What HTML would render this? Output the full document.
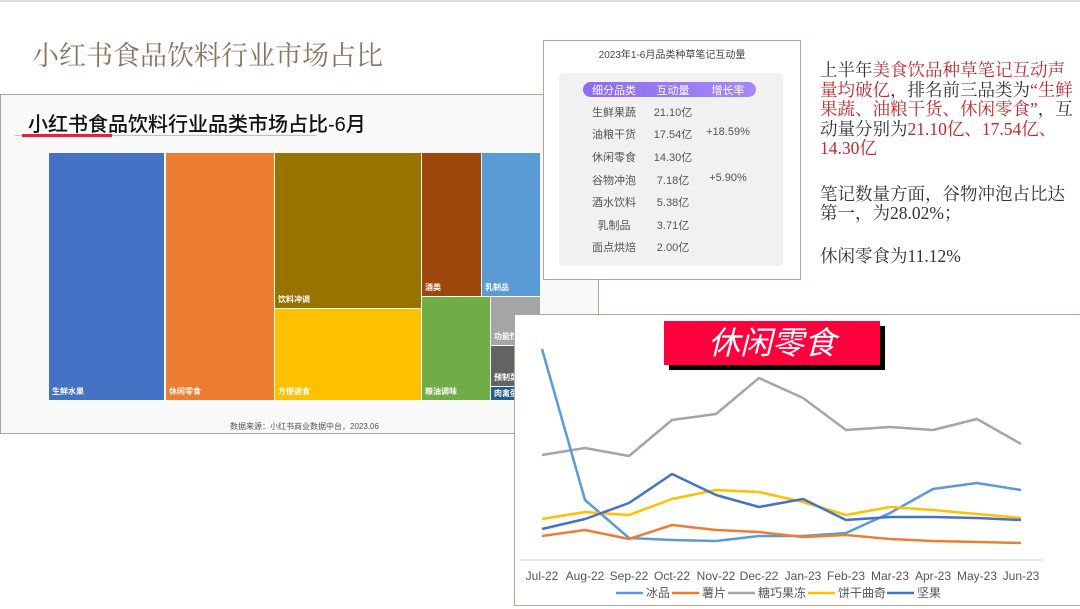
<!DOCTYPE html>
<html><head><meta charset="utf-8"><style>
body{margin:0;width:1080px;height:609px;background:#fff;position:relative;overflow:hidden;font-family:"Liberation Sans","Noto Sans CJK SC",sans-serif;}
.a{position:absolute;}
.serif{font-family:"Liberation Serif","Noto Serif CJK SC",serif;}
.tm{position:absolute;color:#fff;font-size:8px;font-weight:bold;}
.tm span{position:absolute;left:3px;bottom:3px;white-space:nowrap;}
.row{position:absolute;font-size:11px;color:#555;width:60px;text-align:center;}
</style></head><body>
<div class="a" style="left:0;top:0;width:1080px;height:2px;background:#ddd"></div>
<div class="a serif" style="left:32px;top:34px;font-size:27px;color:#8a7560;">小红书食品饮料行业市场占比</div>

<div class="a" style="left:0;top:94px;width:597px;height:338px;background:#f9f9f9;border:1px solid #b8a493;"></div>
<div class="a" style="left:28px;top:108px;font-size:20px;color:#111;font-weight:500;">小红书食品饮料行业品类市场占比-6月</div>
<div class="a" style="left:15px;top:135px;width:301px;height:1px;background:#f7a8b4"></div>
<div class="a" style="left:22px;top:134px;width:90px;height:3px;background:#ee1c3a"></div>

<div class="tm" style="left:49px;top:153px;width:115px;height:247px;background:#4472c4"><span>生鲜水果</span></div>
<div class="tm" style="left:166px;top:153px;width:108px;height:247px;background:#ed7d31"><span>休闲零食</span></div>
<div class="tm" style="left:275px;top:153px;width:146px;height:155px;background:#997300"><span>饮料冲调</span></div>
<div class="tm" style="left:275px;top:309px;width:146px;height:91px;background:#ffc000"><span>方便速食</span></div>
<div class="tm" style="left:422px;top:153px;width:59px;height:143px;background:#9e480e"><span>酒类</span></div>
<div class="tm" style="left:482px;top:153px;width:58px;height:143px;background:#5b9bd5"><span>乳制品</span></div>
<div class="tm" style="left:422px;top:297px;width:68px;height:103px;background:#70ad47"><span>粮油调味</span></div>
<div class="tm" style="left:491px;top:297px;width:49px;height:48px;background:#a5a5a5"><span>功能性</span></div>
<div class="tm" style="left:491px;top:346px;width:49px;height:40px;background:#636363"><span>预制菜</span></div>
<div class="tm" style="left:491px;top:387px;width:49px;height:13px;background:#255e91"><span style="bottom:1px">肉禽蛋</span></div>
<div class="a" style="left:230px;top:421px;font-size:8px;color:#555;">数据来源：小红书商业数据中台，2023.06</div>

<div class="a" style="left:543px;top:40px;width:256px;height:238px;background:#fff;border:1px solid #b8a493;"></div>
<div class="a" style="left:543px;top:46px;width:258px;text-align:center;font-size:10px;color:#444;">2023年1-6月品类种草笔记互动量</div>
<div class="a" style="left:559px;top:73px;width:224px;height:193px;background:#f1f1f1;border-radius:4px;"></div>
<div class="a" style="left:583px;top:82px;width:173px;height:15px;background:linear-gradient(90deg,#8f6cf0,#a48af5);border-radius:8px;"></div>
<div class="row" style="left:584px;top:82px;color:#fff">细分品类</div>
<div class="row" style="left:643px;top:82px;color:#fff">互动量</div>
<div class="row" style="left:698px;top:82px;color:#fff">增长率</div>
<div class="row" style="left:584px;top:104px">生鲜果蔬</div><div class="row" style="left:643px;top:104px">21.10亿</div>
<div class="row" style="left:584px;top:126px">油粮干货</div><div class="row" style="left:643px;top:126px">17.54亿</div><div class="row" style="left:698px;top:126px">+18.59%</div>
<div class="row" style="left:584px;top:149px">休闲零食</div><div class="row" style="left:643px;top:149px">14.30亿</div>
<div class="row" style="left:584px;top:172px">谷物冲泡</div><div class="row" style="left:643px;top:172px">7.18亿</div><div class="row" style="left:698px;top:172px">+5.90%</div>
<div class="row" style="left:584px;top:194px">酒水饮料</div><div class="row" style="left:643px;top:194px">5.38亿</div>
<div class="row" style="left:584px;top:217px">乳制品</div><div class="row" style="left:643px;top:217px">3.71亿</div>
<div class="row" style="left:584px;top:239px">面点烘焙</div><div class="row" style="left:643px;top:239px">2.00亿</div>

<div class="a serif" style="left:820px;top:61px;width:262px;font-size:17.5px;line-height:19.5px;color:#333;">上半年<span style="color:#c0282d">美食饮品种草笔记互动声量均破亿</span>，排名前三品类为<span style="color:#c0282d">“生鲜果蔬、油粮干货、休闲零食”</span>，互动量分别为<span style="color:#c0282d">21.10亿、17.54亿、14.30亿</span>
<div style="height:26px"></div>笔记数量方面，谷物冲泡占比达第一，为28.02%；<div style="height:23px"></div>休闲零食为11.12%</div>

<div class="a" style="left:514px;top:314px;width:565px;height:290px;background:#fff;border:1px solid #b8a493;"></div>
<div class="a" style="left:669px;top:326px;width:216px;height:44px;background:#000"></div>
<div class="a" style="left:664px;top:321px;width:216px;height:44px;background:#ff003c;color:#fff;font-size:32px;font-style:italic;text-align:center;line-height:44px;">休闲零食</div>
<svg class="a" style="left:0;top:0" width="1080" height="609">
<line x1="520" y1="560" x2="1042" y2="560" stroke="#ccc"/>
<g fill="none" stroke-width="2.5" stroke-linejoin="round">
<polyline stroke="#a5a5a5" points="542,455 585,448 629,456 672,420 716,414 759,378 803,398 846,430 890,427 933,430 977,419 1021,444"/>
<polyline stroke="#5b9bd5" points="542,349 585,500 629,538 672,540 716,541 759,536 803,536 846,533 890,513 933,489 977,483 1021,490"/>
<polyline stroke="#ed7d31" points="542,536 585,530 629,539 672,525 716,530 759,532 803,537 846,535 890,539 933,541 977,542 1021,543"/>
<polyline stroke="#ffc000" points="542,519 585,512 629,515 672,499 716,490 759,492 803,502 846,515 890,507 933,510 977,514 1021,518"/>
<polyline stroke="#4472c4" points="542,529 585,519 629,503 672,474 716,495 759,507 803,499 846,520 890,517 933,517 977,518 1021,520"/>
</g>
<g font-size="12" fill="#555" text-anchor="middle" font-family="Liberation Sans,sans-serif">
<text x="542" y="580">Jul-22</text><text x="585" y="580">Aug-22</text><text x="629" y="580">Sep-22</text><text x="672" y="580">Oct-22</text><text x="716" y="580">Nov-22</text><text x="759" y="580">Dec-22</text><text x="803" y="580">Jan-23</text><text x="846" y="580">Feb-23</text><text x="890" y="580">Mar-23</text><text x="933" y="580">Apr-23</text><text x="977" y="580">May-23</text><text x="1021" y="580">Jun-23</text>
</g>
<g stroke-width="2.5">
<line x1="616" y1="593" x2="643" y2="593" stroke="#5b9bd5"/><line x1="672" y1="593" x2="699" y2="593" stroke="#ed7d31"/><line x1="728" y1="593" x2="755" y2="593" stroke="#a5a5a5"/><line x1="808" y1="593" x2="835" y2="593" stroke="#ffc000"/><line x1="887" y1="593" x2="914" y2="593" stroke="#4472c4"/>
</g>
<g font-size="12" fill="#555" font-family="Liberation Sans,Noto Sans CJK SC,sans-serif">
<text x="646" y="597">冰品</text><text x="702" y="597">薯片</text><text x="758" y="597">糖巧果冻</text><text x="838" y="597">饼干曲奇</text><text x="917" y="597">坚果</text>
</g>
</svg>
</body></html>
